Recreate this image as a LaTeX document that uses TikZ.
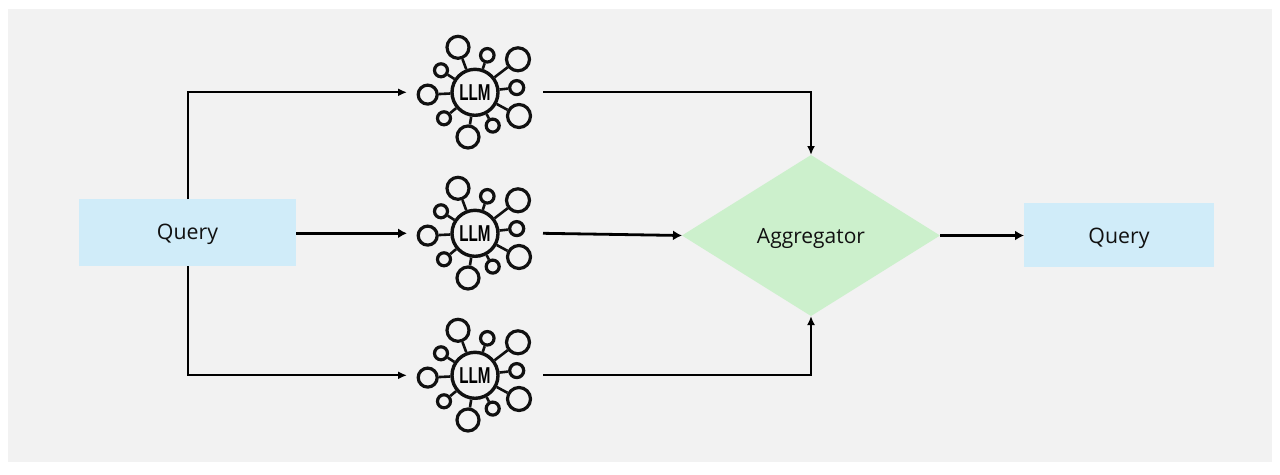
\documentclass[tikz,border=0pt]{standalone}
\usepackage{fontspec}
\usepackage{graphicx}
\setmainfont{Open Sans}
\newfontfamily\llmfont{Liberation Sans}
\usetikzlibrary{arrows.meta,shapes.geometric}
\definecolor{panel}{HTML}{F2F2F2}
\definecolor{bluebox}{HTML}{D0ECF9}
\definecolor{greenbox}{HTML}{CCF0CC}
\definecolor{ink}{HTML}{111111}
\tikzset{
  querybox/.style={rectangle,fill=bluebox,inner sep=0pt,outer sep=0pt,text=ink,font=\fontsize{21.3}{25}\selectfont},
  aggbox/.style={diamond,fill=greenbox,inner sep=0pt,outer sep=0pt,aspect=1.6,text=ink,font=\fontsize{21}{25}\selectfont},
  sat/.style={circle,draw=ink,line width=3.2pt,inner sep=0pt,minimum size=#1},
  hubnode/.style={circle,draw=ink,line width=3.4pt,inner sep=0pt,minimum size=46pt,font=\llmfont\bfseries\fontsize{23}{24}\selectfont},
  spoke/.style={draw=ink,line width=2.6pt},
  thin arrow/.style={draw=black,line width=2pt,-{Latex[length=9pt,width=8pt]}},
  thick arrow/.style={draw=black,line width=3pt,-{Latex[length=9pt,width=10pt]}},
  iconbox/.style={rectangle,minimum width=136pt,minimum height=110pt,inner sep=0pt,outer sep=0pt},
  llmicon/.pic={
    \node[iconbox] (-box) at (0,0) {};
    \node[hubnode] (-hub) at (0,0) {\scalebox{0.66}[1]{LLM}};
    \node[sat=22pt] (-s1) at (-17,-45) {};
    \node[sat=13.5pt] (-s2) at (12.3,-37) {};
    \node[sat=23pt] (-s3) at (43,-33) {};
    \node[sat=14pt] (-s4) at (41.7,-4.7) {};
    \node[sat=23pt] (-s5) at (44,23.7) {};
    \node[sat=13pt] (-s6) at (17.7,33.3) {};
    \node[sat=22pt] (-s7) at (-7,44.7) {};
    \node[sat=13pt] (-s8) at (-31,26) {};
    \node[sat=19pt] (-s9) at (-47.3,2.3) {};
    \node[sat=13pt] (-s10) at (-34,-22) {};
    \foreach \i in {1,...,10} {\draw[spoke] (-hub) -- (-s\i);}
  }
}
\begin{document}
\begin{tikzpicture}[x=1pt,y=-1pt]
  \useasboundingbox (0,0) rectangle (1280,474);
  \fill[white] (0,0) rectangle (1280,474);
  \fill[panel] (8,9) rectangle (1272,462);

  \node[querybox,minimum width=217pt,minimum height=67pt] (q1) at (187.5,232.5) {\raisebox{-6.5pt}[0pt][0pt]{Query}};
  \node[querybox,minimum width=190pt,minimum height=64pt] (q2) at (1119,235) {\raisebox{-8pt}[0pt][0pt]{Query}};
  \node[aggbox,minimum width=258pt,minimum height=161pt] (agg) at (811,235.5) {\raisebox{-7.5pt}[0pt][0pt]{Aggregator}};

  \pic (a) at (475,92.3) {llmicon};
  \pic (b) at (475,233.3) {llmicon};
  \pic (c) at (475,375.3) {llmicon};

  \draw[thin arrow] (q1.north) |- (a-box.west);
  \draw[thin arrow] (q1.south) |- (c-box.west);
  \draw[thick arrow,line width=3.2pt] (q1.east |- b-box.west) -- (b-box.west);
  \draw[thin arrow] (a-box.east) -| (agg.north);
  \draw[thin arrow] (c-box.east) -| (agg.south);
  \draw[thick arrow,line width=2.8pt] (b-box.east) -- (agg.west);
  \draw[thick arrow,line width=3.6pt] (agg.east) -- (q2.west |- agg.east);
\end{tikzpicture}
\end{document}
